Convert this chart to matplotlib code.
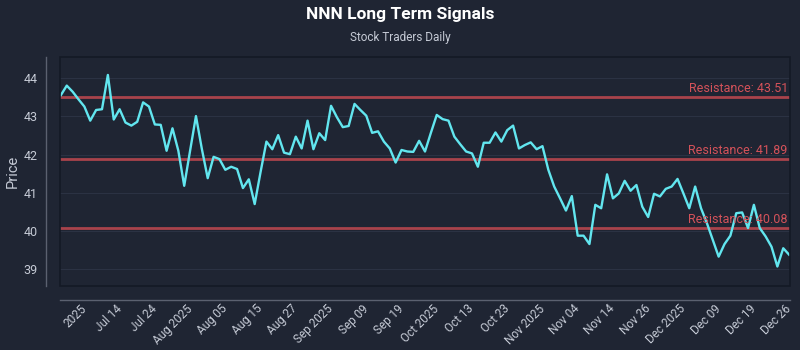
# NNN long term signals, price with resistance levels

import matplotlib
matplotlib.use("Agg")
import matplotlib.pyplot as plt
from matplotlib.patches import Rectangle
from matplotlib.transforms import blended_transform_factory

prices = [
    43.56, 43.81, 43.65, 43.45, 43.26, 42.89, 43.17, 43.19, 44.09, 42.92,
    43.19, 42.84, 42.76, 42.86, 43.37, 43.26, 42.79, 42.78, 42.10, 42.69,
    42.10, 41.18, 42.10, 43.01, 42.15, 41.38, 41.94, 41.88, 41.60, 41.68,
    41.62, 41.12, 41.35, 40.70, 41.54, 42.34, 42.14, 42.51, 42.05, 42.01,
    42.47, 42.16, 42.89, 42.14, 42.56, 42.38, 43.28, 42.98, 42.72, 42.75,
    43.33, 43.17, 43.02, 42.57, 42.61, 42.34, 42.16, 41.79, 42.12, 42.08,
    42.07, 42.36, 42.08, 42.57, 43.04, 42.93, 42.89, 42.47, 42.27, 42.08,
    42.03, 41.68, 42.31, 42.31, 42.58, 42.34, 42.64, 42.76, 42.16, 42.25,
    42.32, 42.14, 42.22, 41.60, 41.16, 40.85, 40.53, 40.91, 39.87, 39.87,
    39.65, 40.68, 40.59, 41.48, 40.85, 40.98, 41.31, 41.05, 41.20, 40.63,
    40.36, 40.97, 40.90, 41.10, 41.16, 41.36, 40.98, 40.59, 41.16, 40.59,
    40.20, 39.76, 39.32, 39.65, 39.87, 40.46, 40.48, 40.07, 40.68, 40.07,
    39.85, 39.58, 39.06, 39.54, 39.37,
]
resistance = [43.51, 41.89, 40.08]
tick_labels = [
    "2025", "Jul 14", "Jul 24", "Aug 2025", "Aug 05", "Aug 15", "Aug 27",
    "Sep 2025", "Sep 09", "Sep 19", "Oct 2025", "Oct 13", "Oct 23",
    "Nov 2025", "Nov 04", "Nov 14", "Nov 26", "Dec 2025", "Dec 09",
    "Dec 19", "Dec 26",
]
tick_idx = [4 + 6 * i for i in range(len(tick_labels))]
y_ticks = [39, 40, 41, 42, 43, 44]

bg = "#1f2533"
txt = "#c5cad5"
plt.rcParams["font.family"] = ["Roboto", "DejaVu Sans"]

fig = plt.figure(figsize=(8, 3.5), dpi=100, facecolor=bg)
ax = fig.add_axes([0.075, 0.183, 0.9125, 0.654], facecolor=bg)

# spines first: set_position resets the ticks
for s in ["top", "right"]:
    ax.spines[s].set_visible(False)
for s in ["left", "bottom"]:
    ax.spines[s].set_position(("outward", 10))
    ax.spines[s].set_color("#5b6170")
    ax.spines[s].set_linewidth(1)

x = list(range(len(prices)))
for lvl in resistance:
    ax.axhline(lvl, color="#a8434b", lw=2.0, zorder=2)
ax.plot(x, prices, color="#62e6ef", lw=1.7, zorder=3)

tr = blended_transform_factory(ax.transAxes, ax.transData)
for lvl in resistance:
    ax.text(0.997, lvl + 0.05, f"Resistance: {lvl:.2f}", transform=tr,
            ha="right", va="bottom", color="#d4525a", fontsize=9, zorder=4)

ax.set_xlim(-0.15, len(prices) - 0.85)
ax.set_ylim(38.55, 44.56)
ax.set_yticks(y_ticks)
ax.grid(axis="y", color="#2b3243", lw=0.8)
ax.set_axisbelow(True)

ax.tick_params(axis="both", length=0, colors=txt, labelsize=9)
ax.tick_params(axis="x", pad=5, labelsize=8.5)
ax.tick_params(axis="y", pad=6)
ax.set_xticks(tick_idx)
ax.set_xticklabels(tick_labels)
plt.setp(ax.get_xticklabels(), rotation=45, ha="right", va="center",
         rotation_mode="anchor")

ax.add_patch(Rectangle((0, 0), 1, 1, transform=ax.transAxes, fill=False,
                       edgecolor="#141925", lw=1.2, clip_on=False, zorder=5))

ax.set_ylabel("Price", color=txt, fontsize=10.5, labelpad=3)

fig.text(0.5, 1 - 15 / 350, "NNN Long Term Signals", ha="center", va="center",
         color="white", fontsize=12.5, fontweight="bold")
fig.text(0.5, 1 - 38 / 350, "Stock Traders Daily", ha="center", va="center",
         color=txt, fontsize=8.5)

fig.savefig("out.png", dpi=100, facecolor=bg)
